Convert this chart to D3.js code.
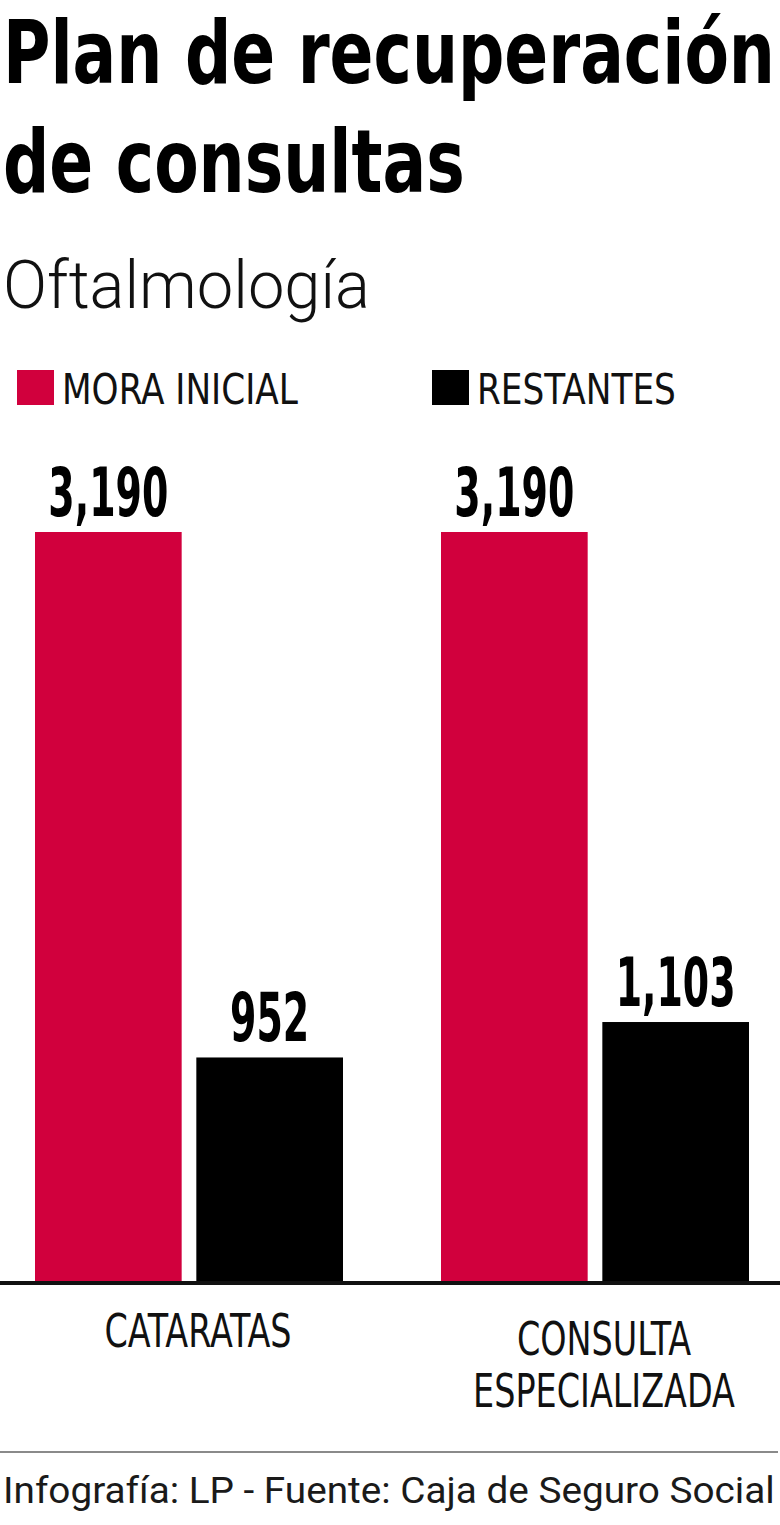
<!DOCTYPE html>
<html>
<head>
<meta charset="utf-8">
<script src="https://cdn.jsdelivr.net/npm/d3@7"></script>
<style>
  html, body { margin: 0; padding: 0; background: #fff; }
  svg { display: block; }
</style>
</head>
<body>
<div id="chart"></div>
<script>
// ---------- data ----------
const titleLines = ["Plan de recuperación", "de consultas"];
const subtitle = "Oftalmología";
const categories = ["CATARATAS", "CONSULTA ESPECIALIZADA"];
const categoryLines = [["CATARATAS"], ["CONSULTA", "ESPECIALIZADA"]];
const seriesNames = ["MORA INICIAL", "RESTANTES"];
const moraInicial = [3190, 3190];
const restantes = [952, 1103];
const footerText = "Infografía: LP - Fuente: Caja de Seguro Social";

// ---------- styles ----------
const W = 780, H = 1525;
const RED = "#d1003d", BLACK = "#000000";
const condensed = "'Liberation Sans Narrow', 'Arial Narrow', 'DejaVu Sans Condensed', 'Roboto Condensed', sans-serif";
const lightSans = "Roboto, 'Open Sans', 'DejaVu Sans', sans-serif";

const svg = d3.select("#chart").append("svg")
  .attr("width", W).attr("height", H);

function measure(txt, font, size, weight) {
  const t = svg.append("text").attr("font-family", font).attr("font-size", size)
    .attr("font-weight", weight).text(txt);
  const w = t.node().getComputedTextLength();
  t.remove();
  return w;
}
function placeText(g, txt, x, y, k, anchor, font, size, weight, fill) {
  return g.append("text")
    .attr("transform", `translate(${x},${y}) scale(${k},1)`)
    .attr("text-anchor", anchor)
    .attr("font-family", font).attr("font-size", size).attr("font-weight", weight)
    .attr("fill", fill || "#000")
    .text(txt);
}

// ---------- title ----------
const titleSize = 88;
const kTitle = 772 / measure(titleLines[0], condensed, titleSize, 700);
placeText(svg, titleLines[0], 3, 83, kTitle, "start", condensed, titleSize, 700);
placeText(svg, titleLines[1], 3, 192, kTitle, "start", condensed, titleSize, 700);

// ---------- subtitle ----------
const subSize = 66;
const kSub = 367 / measure(subtitle, lightSans, subSize, 300);
placeText(svg, subtitle, 3, 308, kSub, "start", lightSans, subSize, 300, "#111");

// ---------- scales ----------
const x0 = d3.scaleBand().domain(categories).range([35, 749]).paddingInner(0.2414).paddingOuter(0);
const x1 = d3.scaleBand().domain(seriesNames).range([0, x0.bandwidth()]).paddingInner(0.0909).paddingOuter(0);
const y = d3.scaleLinear().domain([0, 3190]).range([1281, 532]);
const color = d3.scaleOrdinal().domain(seriesNames).range([RED, BLACK]);
const fmt = d3.format(",");

// ---------- legend ----------
const legSize = 43;
const kLeg = 236 / measure(seriesNames[0], condensed, legSize, 400);
const legendX = [17, 432];
const legG = svg.append("g");
seriesNames.forEach((s, i) => {
  legG.append("rect").attr("x", legendX[i]).attr("y", 370).attr("width", 37).attr("height", 35)
    .attr("fill", color(s));
  placeText(legG, s, legendX[i] + 45, 404, kLeg, "start", condensed, legSize, 400, "#111");
});

// ---------- bars ----------
const rows = categories.map((c, i) => ({ cat: c, vals: [
  { s: seriesNames[0], v: moraInicial[i] },
  { s: seriesNames[1], v: restantes[i] }
]}));

const valSize = 67;
const kVal = 120 / measure(fmt(3190), condensed, valSize, 700);

const groups = svg.append("g").selectAll("g").data(rows).join("g")
  .attr("transform", d => `translate(${x0(d.cat)},0)`);
groups.selectAll("rect").data(d => d.vals).join("rect")
  .attr("x", d => x1(d.s))
  .attr("y", d => y(d.v))
  .attr("width", x1.bandwidth())
  .attr("height", d => y(0) - y(d.v))
  .attr("fill", d => color(d.s));
groups.each(function(d) {
  const g = d3.select(this);
  d.vals.forEach(v => {
    placeText(g, fmt(v.v), x1(v.s) + x1.bandwidth() / 2, y(v.v) - 16, kVal, "middle", condensed, valSize, 700);
  });
});

// ---------- axis baseline ----------
svg.append("line").attr("x1", 0).attr("x2", W).attr("y1", 1283).attr("y2", 1283)
  .attr("stroke", "#111").attr("stroke-width", 4);

// ---------- category labels ----------
const catSize = 47;
const kCat = 187 / measure(categoryLines[0][0], condensed, catSize, 400);
categories.forEach((c, i) => {
  const cx = x0(c) + x0.bandwidth() / 2 + 9;
  const lines = categoryLines[i];
  const first = lines.length > 1 ? 1355 : 1347;
  lines.forEach((ln, j) => {
    placeText(svg, ln, cx, first + j * 52, kCat, "middle", condensed, catSize, 400, "#111");
  });
});

// ---------- footer ----------
svg.append("line").attr("x1", 0).attr("x2", 778).attr("y1", 1452).attr("y2", 1452)
  .attr("stroke", "#8a8a8a").attr("stroke-width", 2);
const footSize = 36;
const kFoot = 772 / measure(footerText, lightSans, footSize, 400);
placeText(svg, footerText, 3, 1503, kFoot, "start", lightSans, footSize, 400, "#1a1a1a");
</script>
</body>
</html>
